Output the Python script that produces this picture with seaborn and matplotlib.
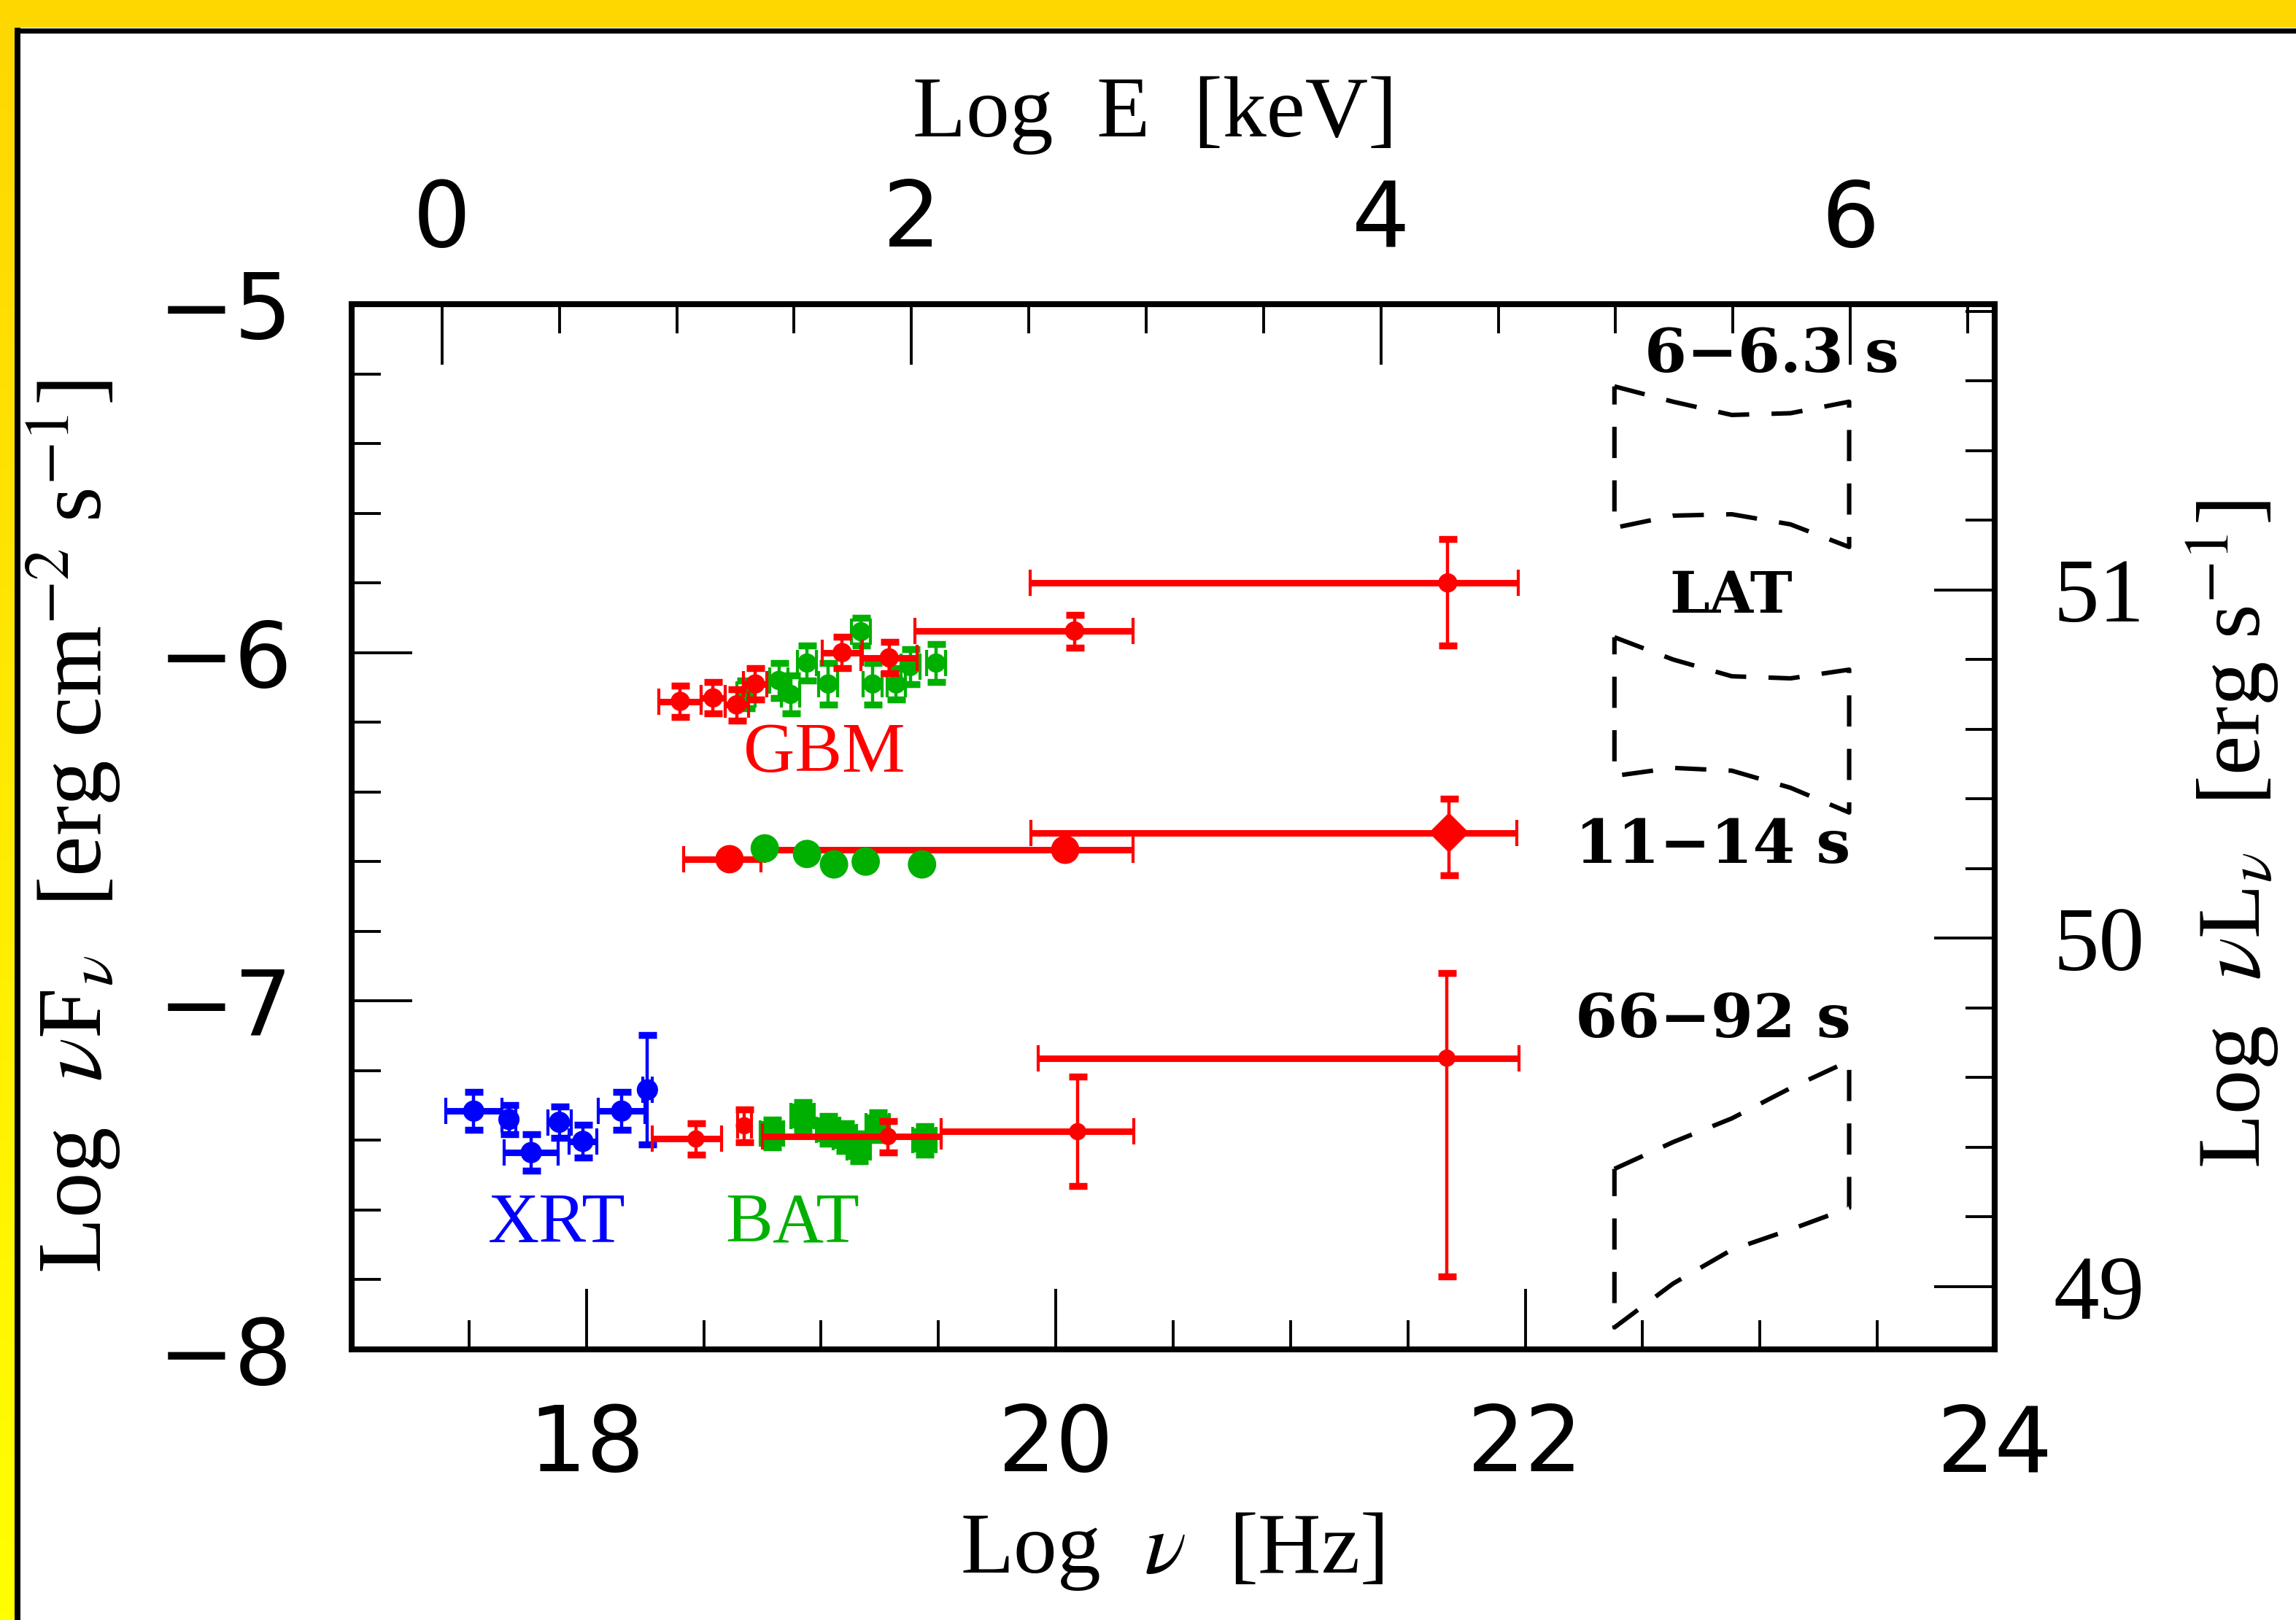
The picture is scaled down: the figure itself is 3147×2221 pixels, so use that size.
import numpy as np
import matplotlib
matplotlib.use('Agg')
import matplotlib.pyplot as plt
import seaborn as sns
from matplotlib.ticker import FixedLocator, FuncFormatter
from matplotlib.patches import Rectangle
from matplotlib.lines import Line2D
from matplotlib.colors import LinearSegmentedColormap
from matplotlib import font_manager

# ---------------- data (log nu [Hz], log nuFnu) ----------------
# 6-6.3 s
gbm1_x = [18.40, 18.54, 18.64, 18.72, 19.09, 19.29]
gbm1_y = [-6.14, -6.13, -6.15, -6.09, -6.00, -6.015]
gbm1_xerr = [0.09, 0.05, 0.05, 0.05, 0.085, 0.12]
gbm1_yerr = [0.045, 0.045, 0.045, 0.045, 0.045, 0.045]
bat1_x = [18.68, 18.82, 18.87, 18.94, 19.03, 19.17, 19.22, 19.32, 19.38, 19.49]
bat1_y = [-6.12, -6.08, -6.12, -6.03, -6.09, -5.94, -6.09, -6.09, -6.04, -6.03]
bat1_yerr = [0.04, 0.05, 0.055, 0.05, 0.06, 0.04, 0.06, 0.045, 0.05, 0.055]
bat1_xerr = [0.04, 0.04, 0.04, 0.04, 0.04, 0.04, 0.04, 0.04, 0.04, 0.04]
hi1_x = [20.08, 21.67]
hi1_y = [-5.938, -5.80]
hi1_xlo = [0.68, 1.78]
hi1_xhi = [0.25, 0.30]
hi1_ylo = [0.048, 0.18]
hi1_yhi = [0.046, 0.126]

# 11-14 s
gbm2_x = [18.61, 20.04]
gbm2_y = [-6.593, -6.566]
gbm2_xlo = [0.195, 1.28]
gbm2_xhi = [0.135, 0.29]
bat2_x = [18.76, 18.94, 19.055, 19.19, 19.43]
bat2_y = [-6.562, -6.578, -6.608, -6.600, -6.608]
hi2_x = [21.675]
hi2_y = [-6.517]
hi2_xlo = [1.78]
hi2_xhi = [0.29]
hi2_ylo = [0.122]
hi2_yhi = [0.098]

# 66-92 s
xrt_x = [17.52, 17.67, 17.765, 17.885, 17.985, 18.15, 18.26]
xrt_y = [-7.316, -7.340, -7.435, -7.348, -7.403, -7.316, -7.255]
xrt_xerr = [0.12, 0.03, 0.115, 0.05, 0.06, 0.10, 0.02]
xrt_yerr = [0.054, 0.042, 0.052, 0.045, 0.047, 0.054, 0.157]
gbm3_x = [18.467, 18.673, 19.286, 20.093]
gbm3_y = [-7.396, -7.358, -7.389, -7.375]
gbm3_xlo = [0.187, 0.03, 0.536, 0.58]
gbm3_xhi = [0.11, 0.03, 0.227, 0.24]
gbm3_yerr = [0.045, 0.047, 0.045, 0.157]
bat3_x = [18.79, 18.92, 19.03, 19.10, 19.16, 19.24, 19.44]
bat3_y = [-7.38, -7.33, -7.37, -7.39, -7.42, -7.36, -7.40]
bat3_xerr = [0.05, 0.05, 0.05, 0.05, 0.05, 0.05, 0.05]
bat3_yerr = [0.04, 0.04, 0.04, 0.04, 0.04, 0.04, 0.04]
hi3_x = [21.666]
hi3_y = [-7.164]
hi3_xlo = [1.74]
hi3_xhi = [0.306]
hi3_ylo = [0.626]
hi3_yhi = [0.244]

# LAT butterflies (0.1-1 GeV)
lat_x = [22.38, 22.63, 22.88, 23.13, 23.38]
lat1_top = [-5.236, -5.280, -5.318, -5.313, -5.280]
lat1_bot = [-5.642, -5.607, -5.603, -5.632, -5.697]
lat2_top = [-5.956, -6.020, -6.068, -6.074, -6.049]
lat2_bot = [-6.354, -6.331, -6.339, -6.388, -6.459]
lat3_top = [-7.482, -7.405, -7.337, -7.250, -7.172]
lat3_bot = [-7.937, -7.811, -7.714, -7.656, -7.594]

# tick values
nu_major = [18, 20, 22, 24]
nu_minor = [17.5, 18.5, 19, 19.5, 20.5, 21, 21.5, 22.5, 23, 23.5]
flux_major = [-8, -7, -6, -5]
flux_minor = [-7.8, -7.6, -7.4, -7.2, -6.8, -6.6, -6.4, -6.2, -5.8, -5.6, -5.4, -5.2]
e_major = [0, 2, 4, 6]
e_minor = [0.5, 1, 1.5, 2.5, 3, 3.5, 4.5, 5, 5.5, 6.5]
lum_major = [49, 50, 51]
lum_minor = [49.2, 49.4, 49.6, 49.8, 50.2, 50.4, 50.6, 50.8, 51.2, 51.4, 51.6, 51.8]

# axis conversions
LOG_NU_KEV = 17.385   # log nu of 1 keV
LUM_OFFSET = 56.82    # log nuL_nu - log nuF_nu

# text labels
texts = [
    ("6−6.3 s", 23.05, -5.147, 'black', 'bold', 30),
    ("LAT", 22.876, -5.840, 'black', 'bold', 28),
    ("11−14 s", 22.80, -6.555, 'black', 'bold', 30),
    ("66−92 s", 22.80, -7.055, 'black', 'bold', 30),
    ("GBM", 19.015, -6.294, '#ff0000', 'normal', 35),
    ("XRT", 17.873, -7.643, '#0000ff', 'normal', 35),
    ("BAT", 18.878, -7.643, '#00b000', 'normal', 35),
]

RED, GREEN, BLUE = '#ff0000', '#00b000', '#0000ff'

# ---------------- style ----------------
sns.set_theme(style='ticks')
avail = {f.name for f in font_manager.fontManager.ttflist}
SERIF = 'Liberation Serif' if 'Liberation Serif' in avail else 'DejaVu Serif'
NARROW = 'Liberation Sans Narrow' if 'Liberation Sans Narrow' in avail else 'DejaVu Sans'
plt.rcParams['font.family'] = [SERIF, 'DejaVu Serif']
plt.rcParams['mathtext.fontset'] = 'stix'
plt.rcParams['axes.unicode_minus'] = True
for k in ['text.color', 'axes.labelcolor', 'xtick.color', 'ytick.color',
          'xtick.labelcolor', 'ytick.labelcolor', 'axes.edgecolor']:
    plt.rcParams[k] = 'black'

W, H, DPI = 3147, 2221, 200
fig = plt.figure(figsize=(W / DPI, H / DPI), dpi=DPI, facecolor='white')

# frame decoration: yellow band + black border line
fig.patches.append(Rectangle((0, 1 - 38 / H), 1, 38 / H, transform=fig.transFigure,
                             facecolor='#FFD700', edgecolor='none', zorder=0))
bax = fig.add_axes([0, 0, 20 / W, 1 - 38 / H])
bax.axis('off')
bax.imshow(np.linspace(0, 1, 256)[:, None], aspect='auto',
           cmap=LinearSegmentedColormap.from_list('yy', ['#FFD700', '#FFFF00']))
fig.lines.append(Line2D([20 / W, 1], [1 - 41.5 / H, 1 - 41.5 / H], transform=fig.transFigure,
                        color='black', lw=7 * 72 / DPI, solid_capstyle='butt'))
fig.lines.append(Line2D([24 / W, 24 / W], [0, 1 - 38 / H], transform=fig.transFigure,
                        color='black', lw=8 * 72 / DPI, solid_capstyle='butt'))

ax = fig.add_axes([482 / W, 1 - 1850 / H, (2734 - 482) / W, (1850 - 417) / H])
ax.set_facecolor('white')


def xbars(x, y, lo, hi, color, z=3):
    ax.errorbar(x, y, xerr=[lo, hi], fmt='none', ecolor=color, elinewidth=3.2,
                capsize=6.5, capthick=1.5, zorder=z)


def ybars(x, y, lo, hi, color, z=3):
    ax.errorbar(x, y, yerr=[lo, hi], fmt='none', ecolor=color, elinewidth=1.6,
                capsize=4.5, capthick=3.4, zorder=z)


def pts(x, y, color, size, marker='o', z=4):
    sns.scatterplot(x=x, y=y, ax=ax, color=color, marker=marker, s=size ** 2,
                    edgecolor='none', linewidth=0, legend=False, zorder=z)


# 6-6.3 s
xbars(bat1_x, bat1_y, bat1_xerr, bat1_xerr, GREEN)
ybars(bat1_x, bat1_y, bat1_yerr, bat1_yerr, GREEN)
pts(bat1_x, bat1_y, GREEN, 9.5)
xbars(gbm1_x, gbm1_y, gbm1_xerr, gbm1_xerr, RED, 5)
ybars(gbm1_x, gbm1_y, gbm1_yerr, gbm1_yerr, RED, 5)
pts(gbm1_x, gbm1_y, RED, 9.5, z=6)
xbars(hi1_x, hi1_y, hi1_xlo, hi1_xhi, RED, 5)
ybars(hi1_x, hi1_y, hi1_ylo, hi1_yhi, RED, 5)
pts(hi1_x, hi1_y, RED, 9.5, z=6)

# 11-14 s
xbars(gbm2_x, gbm2_y, gbm2_xlo, gbm2_xhi, RED, 3)
pts(bat2_x, bat2_y, GREEN, 14, z=4)
pts(gbm2_x, gbm2_y, RED, 14, z=5)
xbars(hi2_x, hi2_y, hi2_xlo, hi2_xhi, RED, 5)
ybars(hi2_x, hi2_y, hi2_ylo, hi2_yhi, RED, 5)
pts(hi2_x, hi2_y, RED, 14, marker='D', z=6)

# 66-92 s
xbars(xrt_x, xrt_y, xrt_xerr, xrt_xerr, BLUE)
ybars(xrt_x, xrt_y, xrt_yerr, xrt_yerr, BLUE)
pts(xrt_x, xrt_y, BLUE, 10.5)
xbars(bat3_x, bat3_y, bat3_xerr, bat3_xerr, GREEN)
ybars(bat3_x, bat3_y, bat3_yerr, bat3_yerr, GREEN)
pts(bat3_x, bat3_y, GREEN, 12, marker='s')
xbars(gbm3_x, gbm3_y, gbm3_xlo, gbm3_xhi, RED, 5)
ybars(gbm3_x, gbm3_y, gbm3_yerr, gbm3_yerr, RED, 5)
pts(gbm3_x, gbm3_y, RED, 8.5, z=6)
xbars(hi3_x, hi3_y, hi3_xlo, hi3_xhi, RED, 5)
ybars(hi3_x, hi3_y, hi3_ylo, hi3_yhi, RED, 5)
pts(hi3_x, hi3_y, RED, 8.5, z=6)

# LAT butterflies (closed dashed outlines)
for top, bot in [(lat1_top, lat1_bot), (lat2_top, lat2_bot), (lat3_top, lat3_bot)]:
    bx = list(lat_x) + list(lat_x[::-1]) + [lat_x[0]]
    by = list(top) + list(bot[::-1]) + [top[0]]
    sns.lineplot(x=bx, y=by, ax=ax, sort=False, estimator=None, color='black',
                 lw=2.2, dashes=False, zorder=3)
    ax.lines[-1].set_dashes((7, 5))

for s, x, y, c, w, fs in texts:
    fam = ['DejaVu Serif'] if w == 'bold' else [SERIF, 'DejaVu Serif']
    ax.text(x, y, s, color=c, fontweight=w, fontsize=fs, ha='center', va='center',
            family=fam, zorder=7)

# ---------------- axes ----------------
ax.set_xlim(17, 24)
ax.set_ylim(-8, -5)
ax.set_xlabel('')
ax.set_ylabel('')
for sp in ax.spines.values():
    sp.set_linewidth(2.9)
    sp.set_color('black')
    sp.set_visible(True)

ax.xaxis.set_major_locator(FixedLocator(nu_major))
ax.xaxis.set_minor_locator(FixedLocator(nu_minor))
ax.yaxis.set_major_locator(FixedLocator(flux_major))
ax.yaxis.set_minor_locator(FixedLocator(flux_minor))
ax.tick_params(which='both', direction='in', top=False, right=False, width=1.4,
               color='black', labelcolor='black')
ax.tick_params(which='major', length=30)
ax.tick_params(which='minor', length=14.4)
ax.tick_params(axis='x', which='major', pad=26, labelsize=45, labelfontfamily=NARROW)
ax.tick_params(axis='y', which='major', pad=29, labelsize=45, labelfontfamily=NARROW)
ax.xaxis.set_major_formatter(FuncFormatter(lambda v, p: f'{v:.0f}'))
ax.yaxis.set_major_formatter(FuncFormatter(lambda v, p: f'{v:.0f}'.replace('-', '−')))

secx = ax.secondary_xaxis('top', functions=(lambda v: v - LOG_NU_KEV, lambda e: e + LOG_NU_KEV))
secx.xaxis.set_major_locator(FixedLocator(e_major))
secx.xaxis.set_minor_locator(FixedLocator(e_minor))
secx.tick_params(which='both', direction='in', width=1.4, color='black', labelcolor='black')
secx.tick_params(which='major', length=30, pad=19, labelsize=45, labelfontfamily=NARROW)
secx.tick_params(which='minor', length=14.4)
secx.xaxis.set_major_formatter(FuncFormatter(lambda v, p: f'{v:.0f}'))
for sp in secx.spines.values():
    sp.set_linewidth(2.9)

secy = ax.secondary_yaxis('right', functions=(lambda v: v + LUM_OFFSET, lambda l: l - LUM_OFFSET))
secy.yaxis.set_major_locator(FixedLocator(lum_major))
secy.yaxis.set_minor_locator(FixedLocator(lum_minor))
secy.tick_params(which='both', direction='in', width=1.4, color='black', labelcolor='black')
secy.tick_params(which='major', length=30, pad=29, labelsize=45, labelfontfamily=SERIF)
secy.tick_params(which='minor', length=14.4)
secy.yaxis.set_major_formatter(FuncFormatter(lambda v, p: f'{v:.0f}'))
for sp in secy.spines.values():
    sp.set_linewidth(2.9)

# axis titles
fig.text(1583 / W, 1 - 158 / H, 'Log  E  [keV]', ha='center', va='center', fontsize=43)
fig.text(1606 / W, 1 - 2127 / H, r'Log  $\nu$  [Hz]', ha='center', va='center', fontsize=43)
fig.text(100 / W, 1 - 1134 / H, r'Log  $\nu$F$_\nu$  [erg cm$^{-2}$ s$^{-1}$]',
         ha='center', va='center', rotation=90, fontsize=45)
fig.text(3061 / W, 1 - 1144 / H, r'Log  $\nu$L$_\nu$  [erg s$^{-1}$]',
         ha='center', va='center', rotation=90, fontsize=44)

fig.savefig('out.png', dpi=DPI, facecolor='white')
